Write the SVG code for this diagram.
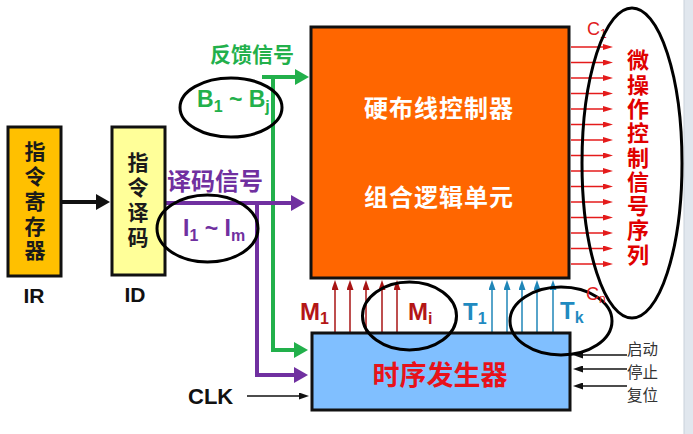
<svg xmlns="http://www.w3.org/2000/svg" width="693" height="434" viewBox="0 0 693 434">
  <style>
    .box { stroke: #111; stroke-width: 3; }
    .cjk { font-family: "Noto Sans CJK SC", "Liberation Sans", sans-serif; font-weight: bold; }
    .lat { font-family: "Liberation Sans", "Noto Sans CJK SC", sans-serif; font-weight: bold; }
    .ell { fill: none; stroke: #000; stroke-width: 3; }
    .green { stroke: #22b04b; stroke-width: 4; fill: none; }
    .purple { stroke: #7030a0; stroke-width: 4; fill: none; }
    .cout { stroke: #e41b1b; stroke-width: 1.5; }
    .mup { stroke: #a81414; stroke-width: 1.5; }
    .tup { stroke: #1f86b8; stroke-width: 1.5; }
    .thin { stroke: #111; stroke-width: 1.6; }
    .vert { writing-mode: vertical-rl; text-orientation: upright; }
    .ctl { font-family: "Noto Sans CJK SC", sans-serif; font-size: 15.5px; fill: #333; }
  </style>
  <defs>
    <marker id="ag" markerUnits="userSpaceOnUse" markerWidth="14" markerHeight="16" refX="0" refY="8" orient="auto">
      <path d="M0,0 L14,8 L0,16 z" fill="#22b04b"/>
    </marker>
    <marker id="ap" markerUnits="userSpaceOnUse" markerWidth="14" markerHeight="16" refX="0" refY="8" orient="auto">
      <path d="M0,0 L14,8 L0,16 z" fill="#7030a0"/>
    </marker>
    <marker id="ak" markerUnits="userSpaceOnUse" markerWidth="14" markerHeight="16" refX="0" refY="8" orient="auto">
      <path d="M0,0 L14,8 L0,16 z" fill="#111"/>
    </marker>
    <marker id="ar" markerUnits="userSpaceOnUse" markerWidth="10" markerHeight="6" refX="0" refY="3" orient="auto">
      <path d="M0,0 L10,3 L0,6 z" fill="#e41b1b"/>
    </marker>
    <marker id="am" markerUnits="userSpaceOnUse" markerWidth="10" markerHeight="7" refX="0" refY="3.5" orient="auto">
      <path d="M0,0 L10,3.5 L0,7 z" fill="#a81414"/>
    </marker>
    <marker id="at" markerUnits="userSpaceOnUse" markerWidth="10" markerHeight="7" refX="0" refY="3.5" orient="auto">
      <path d="M0,0 L10,3.5 L0,7 z" fill="#1f86b8"/>
    </marker>
    <marker id="ab" markerUnits="userSpaceOnUse" markerWidth="10" markerHeight="7" refX="0" refY="3.5" orient="auto">
      <path d="M0,0 L10,3.5 L0,7 z" fill="#111"/>
    </marker>
  </defs>

  <rect width="693" height="434" fill="#ffffff"/>
  <rect x="684" y="0" width="9" height="434" fill="#e1e7ee"/>
  <line x1="684" y1="0" x2="684" y2="434" stroke="#c9d1da" stroke-width="1"/>

  <g id="connectors">
    <line x1="62" y1="202" x2="96" y2="202" stroke="#111" stroke-width="4" marker-end="url(#ak)"/>
    <path class="green" d="M262 77 H295" marker-end="url(#ag)"/>
    <path class="green" d="M273 77 V350 H294" marker-end="url(#ag)"/>
    <path class="purple" d="M165 203 H291" marker-end="url(#ap)"/>
    <path class="purple" d="M257 203 V375 H294" marker-end="url(#ap)"/>
    <line class="thin" x1="247" y1="396" x2="299" y2="396" marker-end="url(#ab)"/>
    <line class="thin" x1="627" y1="355" x2="583" y2="355" marker-end="url(#ab)"/>
    <line class="thin" x1="627" y1="369" x2="583" y2="369" marker-end="url(#ab)"/>
    <line class="thin" x1="627" y1="386" x2="583" y2="386" marker-end="url(#ab)"/>
    <line class="mup" x1="335" y1="332" x2="335" y2="290" marker-end="url(#am)"/>
    <line class="mup" x1="350" y1="332" x2="350" y2="290" marker-end="url(#am)"/>
    <line class="mup" x1="366" y1="332" x2="366" y2="290" marker-end="url(#am)"/>
    <line class="mup" x1="382" y1="332" x2="382" y2="290" marker-end="url(#am)"/>
    <line class="mup" x1="397" y1="332" x2="397" y2="290" marker-end="url(#am)"/>
    <line class="tup" x1="492" y1="332" x2="492" y2="290" marker-end="url(#at)"/>
    <line class="tup" x1="507" y1="332" x2="507" y2="290" marker-end="url(#at)"/>
    <line class="tup" x1="522" y1="332" x2="522" y2="290" marker-end="url(#at)"/>
    <line class="tup" x1="537" y1="332" x2="537" y2="290" marker-end="url(#at)"/>
    <line class="tup" x1="553" y1="332" x2="553" y2="290" marker-end="url(#at)"/>
    <line class="cout" x1="571" y1="47" x2="603" y2="47" marker-end="url(#ar)"/>
    <line class="cout" x1="571" y1="62.5" x2="603" y2="62.5" marker-end="url(#ar)"/>
    <line class="cout" x1="571" y1="78" x2="603" y2="78" marker-end="url(#ar)"/>
    <line class="cout" x1="571" y1="93.5" x2="603" y2="93.5" marker-end="url(#ar)"/>
    <line class="cout" x1="571" y1="109" x2="603" y2="109" marker-end="url(#ar)"/>
    <line class="cout" x1="571" y1="124.5" x2="603" y2="124.5" marker-end="url(#ar)"/>
    <line class="cout" x1="571" y1="140" x2="603" y2="140" marker-end="url(#ar)"/>
    <line class="cout" x1="571" y1="155.5" x2="603" y2="155.5" marker-end="url(#ar)"/>
    <line class="cout" x1="571" y1="171" x2="603" y2="171" marker-end="url(#ar)"/>
    <line class="cout" x1="571" y1="186.5" x2="603" y2="186.5" marker-end="url(#ar)"/>
    <line class="cout" x1="571" y1="202" x2="603" y2="202" marker-end="url(#ar)"/>
    <line class="cout" x1="571" y1="217.5" x2="603" y2="217.5" marker-end="url(#ar)"/>
    <line class="cout" x1="571" y1="233" x2="603" y2="233" marker-end="url(#ar)"/>
    <line class="cout" x1="571" y1="248.5" x2="603" y2="248.5" marker-end="url(#ar)"/>
    <line class="cout" x1="571" y1="264" x2="603" y2="264" marker-end="url(#ar)"/>
  </g>

  <g id="ir">
    <rect class="box" x="8" y="127" width="53" height="149" fill="#ffc000" stroke-width="2.5"/>
    <text class="cjk vert" x="35" y="141" font-size="21" fill="#1a1a1a" letter-spacing="3.7">指令寄存器</text>
    <text class="lat" x="34" y="303" font-size="21" fill="#111" text-anchor="middle">IR</text>
  </g>

  <g id="id">
    <rect class="box" x="112" y="127" width="53" height="148" fill="#ffff99" stroke-width="2.5"/>
    <text class="cjk vert" x="138" y="152" font-size="21" fill="#1a1a1a" letter-spacing="3.7">指令译码</text>
    <text class="lat" x="135" y="302" font-size="21" fill="#111" text-anchor="middle">ID</text>
  </g>

  <g id="feedback-label">
    <text class="cjk" x="210" y="62" font-size="21" fill="#22b04b">反馈信号</text>
    <text class="lat" x="197" y="107" font-size="23" fill="#22b04b">B<tspan font-size="16" dy="5">1</tspan><tspan dy="-5"> ~ B</tspan><tspan font-size="16" dy="5">j</tspan></text>
    <ellipse class="ell" cx="231" cy="107.5" rx="51" ry="29.5"/>
  </g>

  <g id="decode-label">
    <text class="cjk" x="167" y="190" font-size="24" fill="#7030a0">译码信号</text>
    <text class="lat" x="183" y="236" font-size="23" fill="#7030a0">I<tspan font-size="16" dy="5">1</tspan><tspan dy="-5"> ~ I</tspan><tspan font-size="16" dy="5">m</tspan></text>
    <ellipse class="ell" cx="207.5" cy="228.5" rx="50.5" ry="33.5"/>
  </g>

  <g id="controller">
    <rect class="box" x="311" y="27" width="258" height="251" fill="#ff6600"/>
    <text class="cjk" x="439" y="117" font-size="24" fill="#ffffff" text-anchor="middle" letter-spacing="1">硬布线控制器</text>
    <text class="cjk" x="439" y="206" font-size="24" fill="#ffffff" text-anchor="middle" letter-spacing="1">组合逻辑单元</text>
  </g>

  <g id="timing">
    <rect class="box" x="312" y="333" width="258" height="77" fill="#80bfff"/>
    <text class="cjk" x="440" y="385" font-size="27" fill="#e8121a" text-anchor="middle">时序发生器</text>
  </g>

  <g id="m-labels">
    <text class="lat" x="300" y="320" font-size="24" fill="#b41616">M<tspan font-size="16" dy="4">1</tspan></text>
    <text class="lat" x="408" y="320" font-size="24" fill="#b41616">M<tspan font-size="16" dy="4">i</tspan></text>
    <ellipse class="ell" cx="409.5" cy="316" rx="47" ry="34"/>
  </g>

  <g id="t-labels">
    <text class="lat" x="463" y="320" font-size="24" fill="#1f8ac0">T<tspan font-size="16" dy="4">1</tspan></text>
    <text class="lat" x="560" y="319" font-size="24" fill="#1f8ac0">T<tspan font-size="16" dy="4">k</tspan></text>
    <ellipse class="ell" cx="561" cy="321" rx="51" ry="34"/>
  </g>

  <g id="clk">
    <text class="lat" x="188" y="404" font-size="22" fill="#111">CLK</text>
  </g>

  <g id="controls">
    <text class="ctl" x="627" y="355">启动</text>
    <text class="ctl" x="627" y="378">停止</text>
    <text class="ctl" x="627" y="401">复位</text>
  </g>

  <g id="micro-ops">
    <text x="587" y="35" font-family="Liberation Sans, sans-serif" font-size="18" fill="#e02020">C<tspan font-size="12" dy="3">1</tspan></text>
    <text x="586" y="300" font-family="Liberation Sans, sans-serif" font-size="18" fill="#e02020">C<tspan font-size="12" dy="3">n</tspan></text>
    <ellipse class="ell" cx="632" cy="163" rx="50" ry="155"/>
    <text class="cjk vert" x="638" y="49" font-size="22" fill="#e00000" letter-spacing="2.3">微操作控制信号序列</text>
  </g>
</svg>
